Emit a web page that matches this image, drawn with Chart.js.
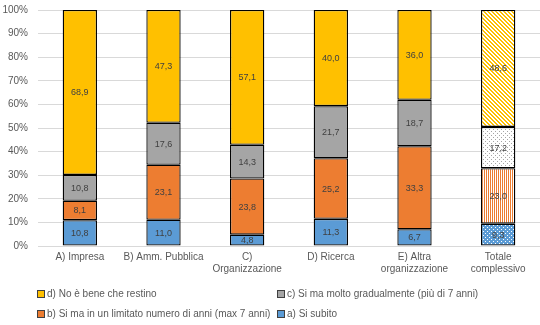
<!DOCTYPE html>
<html>
<head>
<meta charset="utf-8">
<script src="https://cdn.jsdelivr.net/npm/chart.js@4.4.1/dist/chart.umd.min.js"></script>
<style>
  body { margin: 0; background: #fff; overflow: hidden; }
  #wrap { position: relative; width: 540px; height: 325px; }
  #chart { position: absolute; left: 0; top: 0; }
  .leg { position: absolute; font: 10px "Liberation Sans", Arial, sans-serif; color: #595959; white-space: nowrap; line-height: 12px; }
  .leg span.box { display: inline-block; width: 6px; height: 6px; border: 1px solid #404040; margin-right: 2px; vertical-align: -1px; }
</style>
</head>
<body>
<div id="wrap">
  <canvas id="chart" width="540" height="325"></canvas>
</div>
<script>
// categories and values (percent, as printed on the bars)
const categories = [
  "A) Impresa",
  "B) Amm. Pubblica",
  ["C)", "Organizzazione"],
  "D) Ricerca",
  ["E) Altra", "organizzazione"],
  ["Totale", "complessivo"]
];
const seriesNames = [
  "a) Si subito",
  "b) Si ma in un limitato numero di anni (max 7 anni)",
  "c) Si ma molto gradualmente (più di 7 anni)",
  "d) No è bene che restino"
];
const siSubito      = [10.8, 11.0, 4.8, 11.3, 6.7, 9.3];
const siLimitato    = [8.1, 23.1, 23.8, 25.2, 33.3, 23.0];
const siGraduale    = [10.8, 17.6, 14.3, 21.7, 18.7, 17.2];
const noRestino     = [68.9, 47.3, 57.1, 40.0, 36.0, 48.6];
const yTicks = [0, 10, 20, 30, 40, 50, 60, 70, 80, 90, 100];

const colors = ["#5B9BD5", "#ED7D31", "#A5A5A5", "#FFC000"];

// small pattern tiles for the "Totale complessivo" bar
function makePattern(w, h, draw) {
  let c = document.createElement("canvas");
  c.width = w;
  c.height = h;
  let g = c.getContext("2d");
  draw(g);
  return document.getElementById("chart").getContext("2d").createPattern(c, "repeat");
}
const patA = makePattern(4, 4, (g) => {
  g.fillStyle = colors[0]; g.fillRect(0, 0, 4, 4);
  g.fillStyle = "#fff"; g.fillRect(1, 1, 1, 1); g.fillRect(3, 3, 1, 1);
});
const patB = makePattern(2, 1, (g) => {
  g.fillStyle = "#fff"; g.fillRect(0, 0, 2, 1);
  g.fillStyle = colors[1]; g.fillRect(0, 0, 1, 1);
});
const patC = makePattern(4, 4, (g) => {
  g.fillStyle = "#fff"; g.fillRect(0, 0, 4, 4);
  g.fillStyle = "#A5A5A5"; g.fillRect(1, 1, 1, 1); g.fillRect(3, 3, 1, 1);
});
const patD = makePattern(4, 4, (g) => {
  g.fillStyle = "#fff"; g.fillRect(0, 0, 4, 4);
  g.fillStyle = colors[3];
  for (let y = 0; y < 4; y++) {
    for (let x = 0; x < 4; x++) {
      let m = ((x - y) % 4 + 4) % 4;
      if (m === 0 || m === 1) g.fillRect(x, y, 1, 1);
    }
  }
});
const patterns = [patA, patB, patC, patD];

const raw = [siSubito, siLimitato, siGraduale, noRestino];
// 100% stacked: normalise each category
const totals = categories.map((c, i) => raw.reduce((s, arr) => s + arr[i], 0));

const datasets = raw.map((arr, k) => ({
  label: seriesNames[k],
  data: arr.map((v, i) => v / totals[i] * 100),
  rawValues: arr,
  backgroundColor: arr.map((v, i) => i === arr.length - 1 ? patterns[k] : colors[k]),
  borderColor: "#000",
  borderWidth: 1.3,
  borderSkipped: false,
  categoryPercentage: 1,
  barPercentage: 0.41
}));

const valueLabels = {
  id: "valueLabels",
  afterDatasetsDraw(chart) {
    const ctx = chart.ctx;
    ctx.save();
    ctx.font = '9px "Liberation Sans", Arial, sans-serif';
    ctx.fillStyle = "#404040";
    ctx.textAlign = "center";
    ctx.textBaseline = "middle";
    chart.data.datasets.forEach((ds, k) => {
      let meta = chart.getDatasetMeta(k);
      meta.data.forEach((el, i) => {
        let txt = ds.rawValues[i].toFixed(1).replace(".", ",");
        ctx.fillText(txt, el.x, (el.y + el.base) / 2 + 0.5);
      });
    });
    ctx.restore();
  }
};

new Chart(document.getElementById("chart"), {
  type: "bar",
  data: { labels: categories, datasets: datasets },
  options: {
    responsive: false,
    animation: false,
    layout: { padding: { top: 10, right: 0, left: 0, bottom: 0 } },
    plugins: {
      legend: { display: false },
      tooltip: { enabled: false }
    },
    scales: {
      x: {
        stacked: true,
        grid: { display: false, drawTicks: false },
        border: { display: false },
        ticks: {
          color: "#595959",
          font: { family: '"Liberation Sans", Arial, sans-serif', size: 10 },
          padding: 5,
          maxRotation: 0,
          autoSkip: false
        },
        afterFit: (s) => { s.height = 79; s.paddingLeft = 0; s.paddingRight = 0; }
      },
      y: {
        stacked: true,
        min: 0,
        max: 100,
        afterBuildTicks: (s) => { s.ticks = yTicks.map((v) => ({ value: v })); },
        grid: { color: "#D9D9D9", drawTicks: false },
        border: { display: false },
        ticks: {
          color: "#595959",
          font: { family: '"Liberation Sans", Arial, sans-serif', size: 10 },
          padding: 10,
          callback: (v) => v + "%"
        },
        afterFit: (s) => { s.width = 38; s.paddingTop = 0; s.paddingBottom = 0; }
      }
    }
  },
  plugins: [valueLabels]
});

// legend in the Excel order: d, c / b, a
const legendOrder = [3, 2, 1, 0];
const wrap = document.getElementById("wrap");
legendOrder.forEach((k, n) => {
  let item = document.createElement("div");
  item.className = "leg";
  item.style.left = (n % 2 === 0 ? 37 : 277) + "px";
  item.style.top = (n < 2 ? 288 : 308) + "px";
  let box = document.createElement("span");
  box.className = "box";
  box.style.background = colors[k];
  item.appendChild(box);
  item.appendChild(document.createTextNode(seriesNames[k]));
  wrap.appendChild(item);
});
</script>
</body>
</html>
